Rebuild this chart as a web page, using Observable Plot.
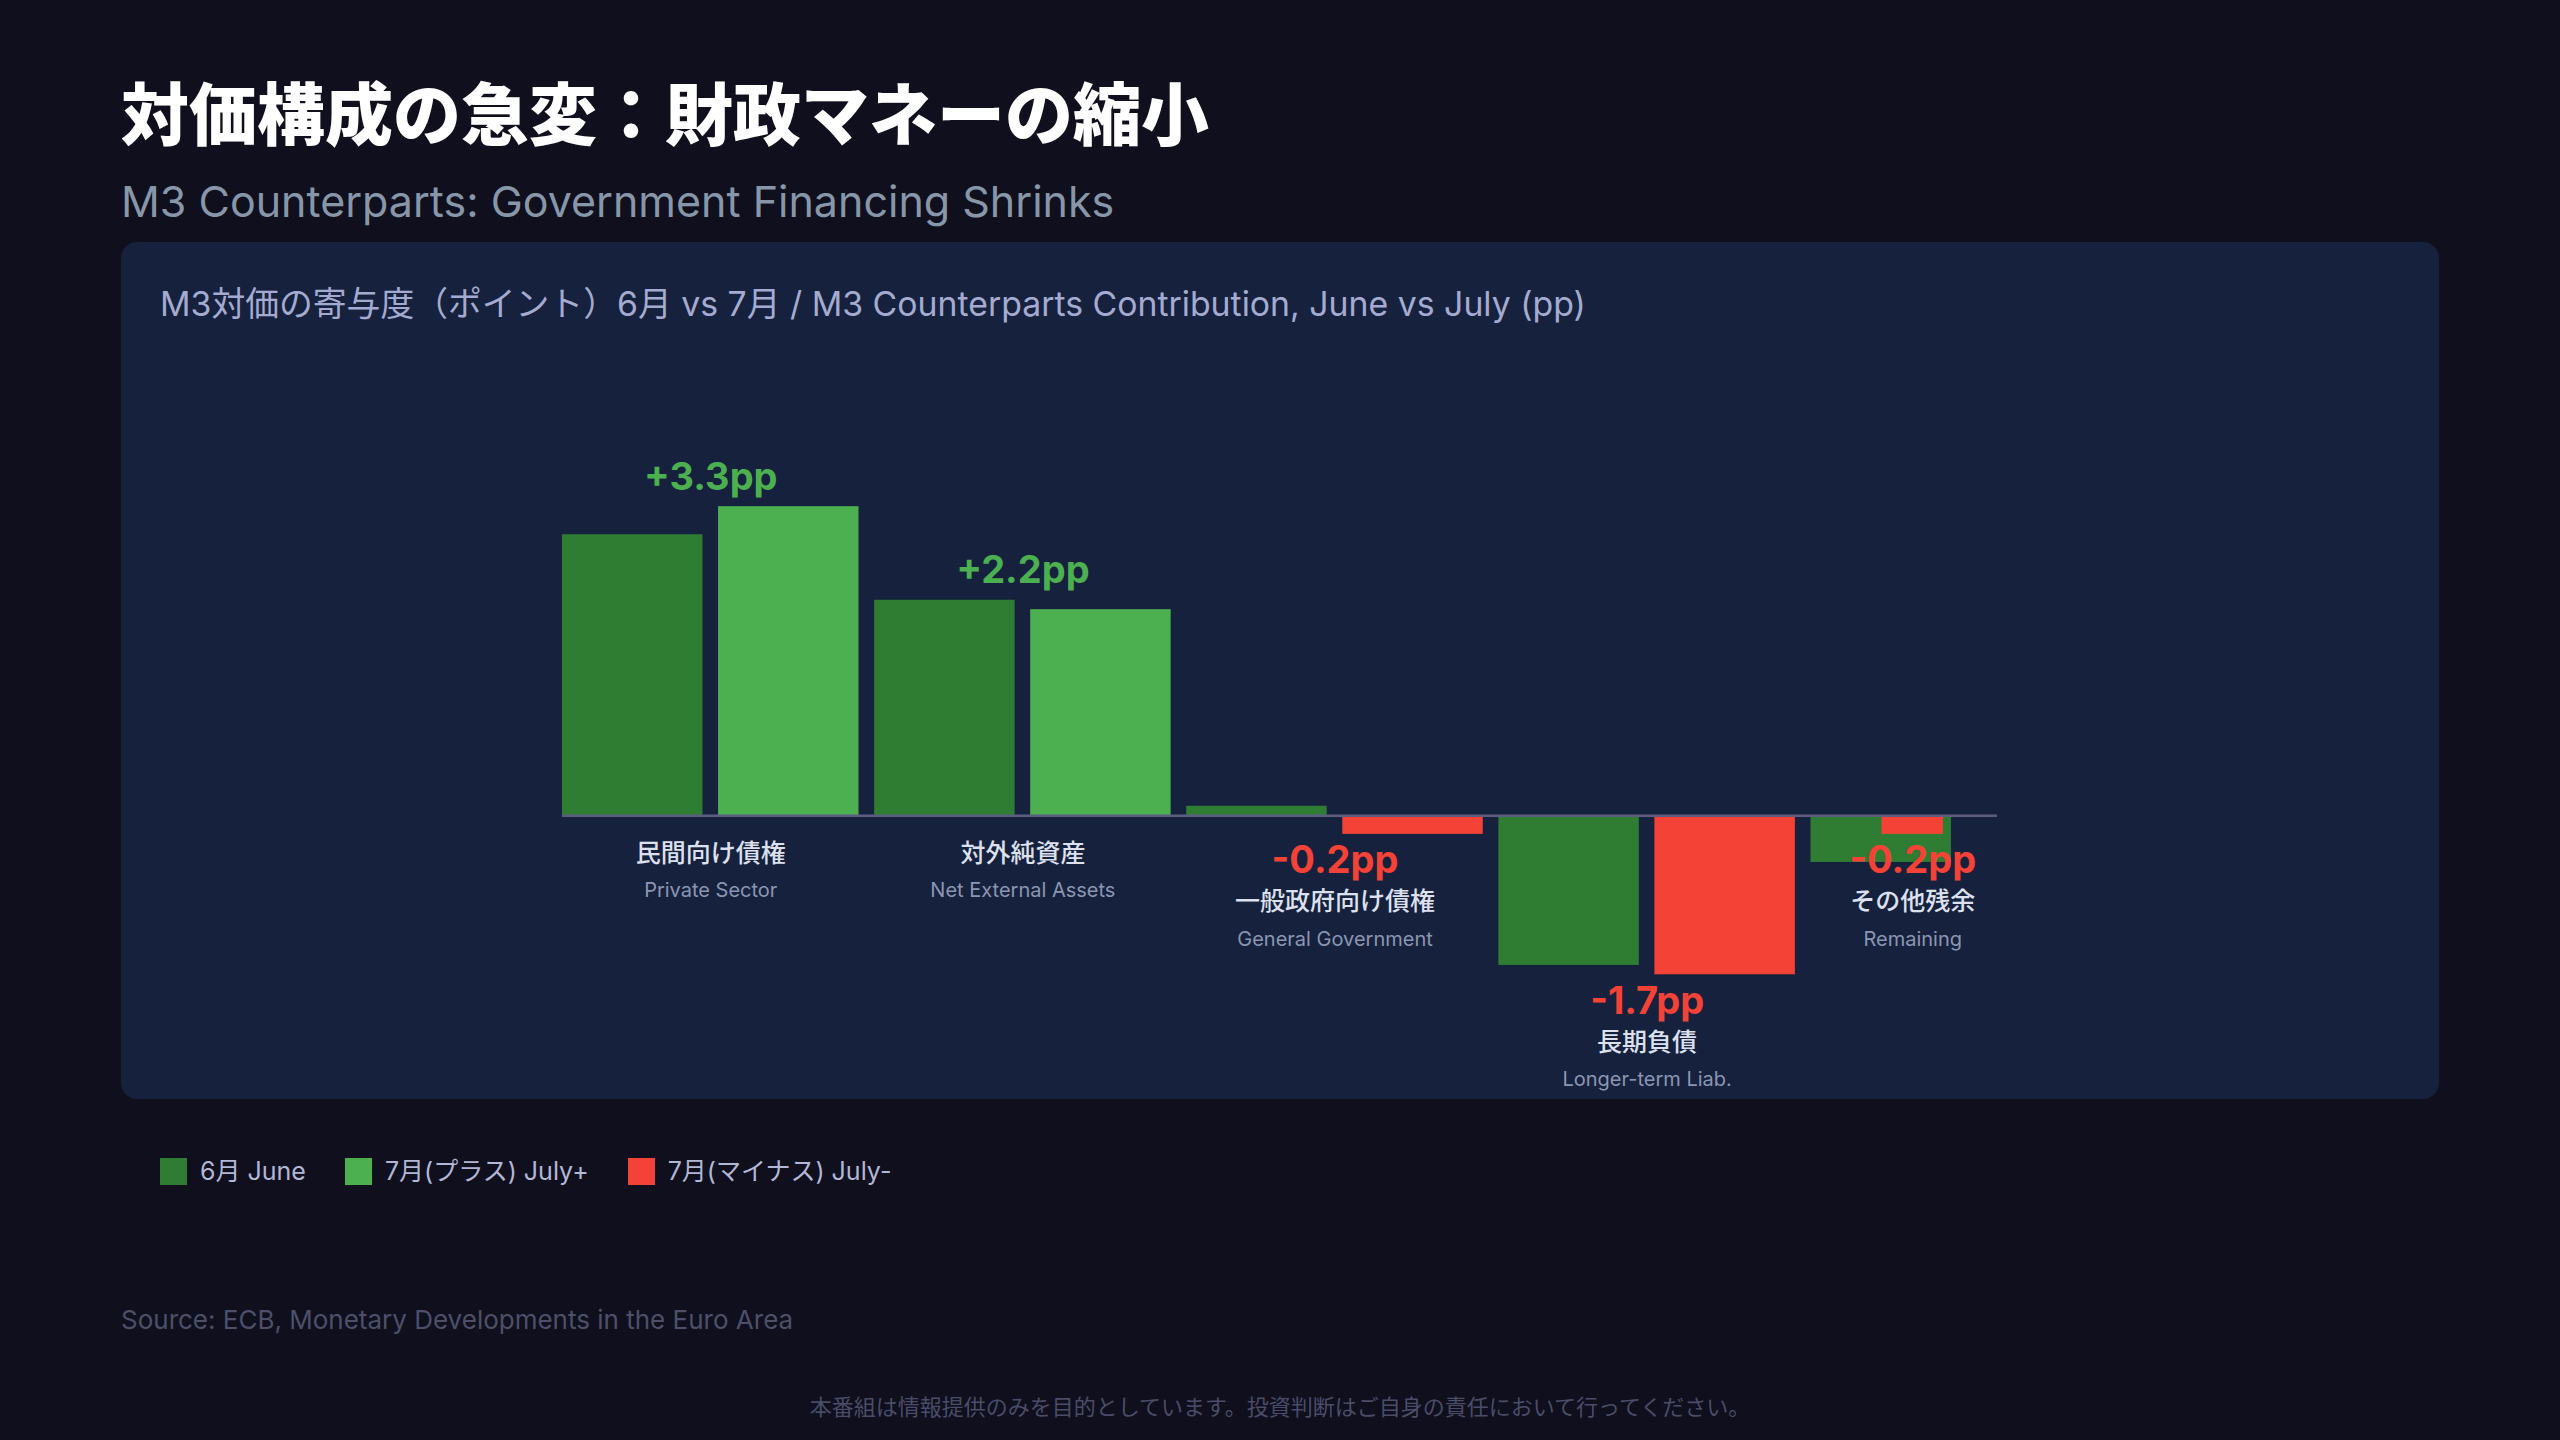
<!DOCTYPE html>
<html lang="ja">
<head>
<meta charset="utf-8">
<script src="https://cdn.jsdelivr.net/npm/d3@7"></script>
<script src="https://cdn.jsdelivr.net/npm/@observablehq/plot@0.6"></script>
<style>
html,body{margin:0;padding:0;}
body{width:2560px;height:1440px;background:#0f0f1d;position:relative;overflow:hidden;font-family:Inter,"Noto Sans CJK JP",sans-serif;}
.abs{position:absolute;white-space:nowrap;line-height:1;}
#title{left:121px;top:77px;font-size:68px;font-weight:900;color:#ffffff;font-family:"Noto Sans CJK JP",sans-serif;}
#subtitle{left:121px;top:180px;font-size:43px;color:#8796a8;}
#panel{left:121px;top:242px;width:2318px;height:857px;background:#16213e;border-radius:16px;}
#charttitle{left:160px;top:287px;font-size:33.8px;color:#a5abd0;}
#chart{left:121px;top:337px;}
#legend{left:160px;top:1156px;}
#legend *{font-family:Inter,"Noto Sans CJK JP",sans-serif !important;}
#legend > div{font-size:25px !important;color:#b3b7d6 !important;min-height:0 !important;margin:0 !important;line-height:30px;}
#legend span{margin-right:39px !important;}
#legend svg{margin-right:13px !important;}
#source{left:121px;top:1307px;font-size:26px;color:#4d5068;}
#disclaimer{left:0;width:2560px;text-align:center;top:1396px;font-size:22px;color:#4a4c68;}
</style>
</head>
<body>
<div id="title" class="abs">対価構成の急変：財政マネーの縮小</div>
<div id="subtitle" class="abs">M3 Counterparts: Government Financing Shrinks</div>
<div id="panel" class="abs"></div>
<div id="charttitle" class="abs">M3対価の寄与度（ポイント）6月 vs 7月 / M3 Counterparts Contribution, June vs July (pp)</div>
<div id="chart" class="abs"></div>
<div id="legend" class="abs"></div>
<div id="source" class="abs">Source: ECB, Monetary Developments in the Euro Area</div>
<div id="disclaimer" class="abs">本番組は情報提供のみを目的としています。投資判断はご自身の責任において行ってください。</div>
<script>
// ---- data ----
const categoriesJa = ["民間向け債権", "対外純資産", "一般政府向け債権", "長期負債", "その他残余"];
const categoriesEn = ["Private Sector", "Net External Assets", "General Government", "Longer-term Liab.", "Remaining"];
const juneValues = [3.0, 2.3, 0.1, -1.6, -0.5];
const julyValues = [3.3, 2.2, -0.2, -1.7, -0.2];
const seriesLabels = ["6月 June", "7月(プラス) July+", "7月(マイナス) July-"];
const seriesColors = ["#2e7d32", "#4caf50", "#f44336"];

// ---- layout ----
const W = 2318, H = 762;
const mL = 441, mR = 332, mT = 10, mB = 3;
const padInner = 0.1;
const keys = categoriesEn.flatMap(c => [c + "|June", c + "|July"]);
const step = (W - mL - mR) / (keys.length - padInner);
const last = categoriesEn.length - 1;
const squeezeL = 71, squeezeR = 8;

const bars = [];
categoriesEn.forEach((c, i) => {
  bars.push({key: c + "|June", value: juneValues[i], series: seriesLabels[0], squeezed: false});
  bars.push({
    key: i === last ? c + "|June" : c + "|July",
    value: julyValues[i],
    series: julyValues[i] >= 0 ? seriesLabels[1] : seriesLabels[2],
    squeezed: i === last
  });
});

const labels = categoriesEn.map((c, i) => ({
  key: c + "|June",
  ja: categoriesJa[i],
  en: c,
  july: julyValues[i],
  top: Math.max(juneValues[i], julyValues[i]),
  text: (julyValues[i] > 0 ? "+" : "") + julyValues[i].toFixed(1) + "pp",
  i
}));

const font = "Inter, 'Noto Sans CJK JP', sans-serif";
function labelMarks(subset, dx) {
  const pos = subset.filter(d => d.july >= 0);
  const neg = subset.filter(d => d.july < 0);
  const common = {x: "key", dx, textAnchor: "middle", fontFamily: font};
  return [
    Plot.text(pos, {...common, y: "top", text: "text", dy: -17, lineAnchor: "bottom", fill: seriesColors[1], fontSize: 38, fontWeight: 700}),
    Plot.text(pos, {...common, y: () => 0, text: "ja", dy: 38, lineAnchor: "middle", fill: "#dde0ee", fontSize: 25, fontWeight: 500}),
    Plot.text(pos, {...common, y: () => 0, text: "en", dy: 75, lineAnchor: "middle", fill: "#8b96b1", fontSize: 20}),
    Plot.text(neg, {...common, y: "july", text: "text", dy: 39, lineAnchor: "bottom", fill: seriesColors[2], fontSize: 38, fontWeight: 700}),
    Plot.text(neg, {...common, y: "july", text: "ja", dy: 68, lineAnchor: "middle", fill: "#dde0ee", fontSize: 25, fontWeight: 500}),
    Plot.text(neg, {...common, y: "july", text: "en", dy: 105, lineAnchor: "middle", fill: "#8b96b1", fontSize: 20})
  ];
}

const chart = Plot.plot({
  width: W, height: H,
  marginLeft: mL, marginRight: mR, marginTop: mT, marginBottom: mB,
  x: {type: "band", domain: keys, paddingInner: padInner, paddingOuter: 0, round: false, axis: null},
  y: {domain: [-3, 5], axis: null},
  color: {domain: seriesLabels, range: seriesColors},
  style: {background: "transparent", fontFamily: font, overflow: "visible"},
  marks: [
    Plot.barY(bars.filter(d => !d.squeezed), {x: "key", y1: () => 0, y2: "value", fill: "series"}),
    Plot.barY(bars.filter(d => d.squeezed), {x: "key", y1: () => 0, y2: "value", fill: "series", insetLeft: squeezeL, insetRight: squeezeR}),
    Plot.ruleY([0], {stroke: "#5b5e80", strokeWidth: 2.5, insetRight: 110}),
    ...labelMarks(labels.filter(d => d.i !== last), step / 2),
    ...labelMarks(labels.filter(d => d.i === last), (squeezeL - squeezeR) / 2)
  ]
});
document.getElementById("chart").appendChild(chart);

const legend = Plot.legend({
  color: {domain: seriesLabels, range: seriesColors},
  swatchSize: 27
});
document.getElementById("legend").appendChild(legend);
</script>
</body>
</html>
